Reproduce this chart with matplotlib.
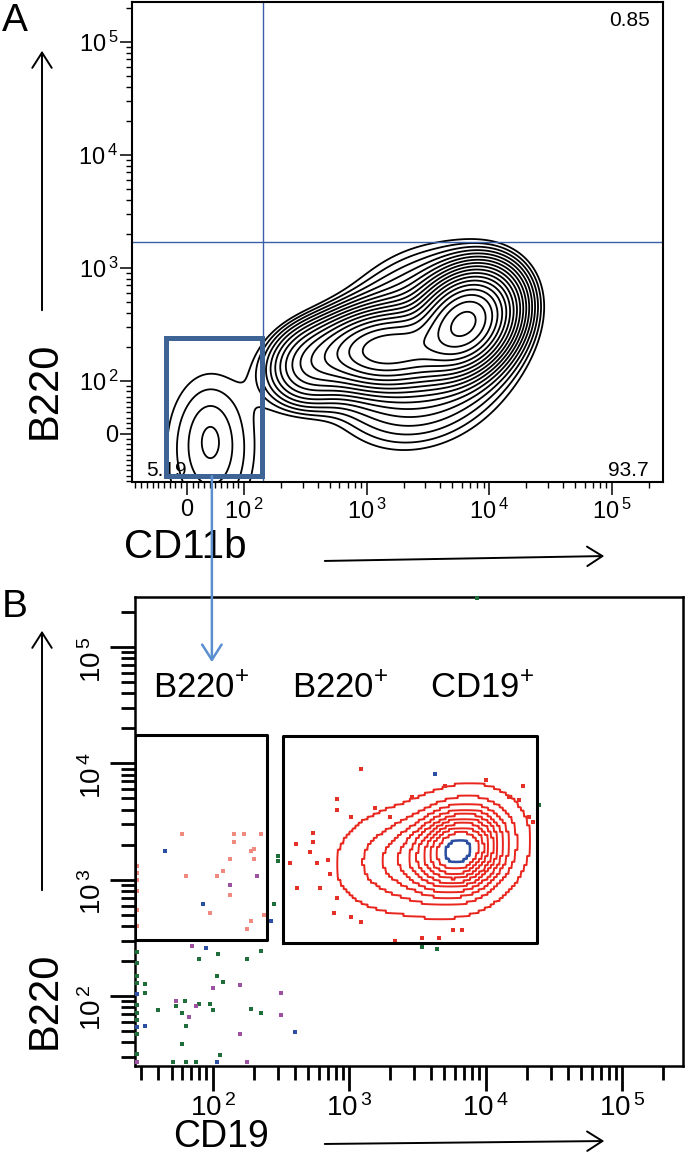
import numpy as np
import matplotlib
matplotlib.use('Agg')
import matplotlib.pyplot as plt
from matplotlib.ticker import FixedLocator, FuncFormatter, LogLocator, NullFormatter
from matplotlib.patches import FancyArrowPatch, ConnectionPatch

plt.rcParams['font.family'] = ['Liberation Sans', 'DejaVu Sans']
plt.rcParams['mathtext.fontset'] = 'custom'
plt.rcParams['mathtext.rm'] = 'Liberation Sans'

#---------------------------------------------------------------------------------------------------
# panel A : B220 vs CD11b (contour populations, centre in data units, spread in decades)
# main CD11b+ population (4 parts) + small B220+ CD11b- population (core + base)
a_pop_x = [6400, 1450, 343, 3000, 41, 41]
a_pop_y = [330, 190, 136, 200, -10, -30]
a_pop_sx = [0.2, 0.3, 0.2, 0.45, 0.1, 0.32]
a_pop_sy = [0.22, 0.18, 0.2, 0.48, 0.2, 0.6]
a_pop_rho = [0.25, 0.1, 0.1, 0.2, 0.0, 0.0]
a_pop_w = [1.0, 0.5, 0.1, 0.08, 0.006, 0.024]

a_quad_x = 143      # quadrant gate
a_quad_y = 1700
a_gate_x = [-37, 140]   # B220+ CD11b- gate
a_gate_y = [-81, 240]
a_pct = ['0.85', '93.7', '5.19']
a_xlim = (-96, 262144)
a_ylim = (-92, 226000)

# panel B : B220 vs CD19
b_pop_x = [6600, 2400]
b_pop_y = [1800, 1500]
b_pop_sx = [0.21, 0.27]
b_pop_sy = [0.235, 0.25]
b_pop_rho = [0.15, 0.1]
b_pop_w = [1.0, 0.25]

b_gate1_x = [27, 249]
b_gate1_y = [302, 17500]
b_gate2_x = [326, 23800]
b_gate2_y = [286, 17200]
b_xlim = (27, 280000)
b_ylim = (25, 270000)
b_gate_names = ['B220$^{+}$', 'B220$^{+}$', 'CD19$^{+}$']

# single events shown as dots
salmon_x = [60, 143, 171, 225, 143, 201, 135, 190, 201, 119, 107, 64, 135, 95, 239, 190, 179,
            28, 28, 28, 28, 28, 28]
salmon_y = [2450, 2450, 2450, 2450, 2120, 1830, 1500, 1770, 1500, 1200, 1080, 1080, 740, 520, 495, 444, 376,
            1320, 1140, 990, 805, 552, 398]
red_x = [1220, 822, 822, 1030, 1540, 2870, 545, 545, 411, 521, 371, 582, 701, 722, 416, 617, 817, 773,
         1030, 1220, 2160, 3400, 4550, 5740, 6690, 10100, 18700, 14900, 17700, 20900, 22200, 5030, 1990]
red_y = [8950, 4910, 3970, 3480, 4160, 5170, 2500, 2120, 2030, 1720, 1380, 1380, 1480, 1120, 843, 843, 691, 514,
         481, 436, 299, 313, 313, 369, 369, 7200, 6430, 5170, 4840, 3480, 3150, 6430, 3480]
green_x = [300, 300, 284, 24800, 3400, 4380, 8700, 79, 110, 179, 225, 107, 120, 32, 32, 40, 54, 63, 60,
           80, 95, 101, 190, 225, 64, 60, 113, 51, 64, 76, 28, 28, 28, 28, 28, 28, 28, 28, 28]
green_y = [1585, 1440, 615, 4390, 265, 252, 265000, 207, 231, 207, 243, 149, 132, 126, 106, 76, 82, 91, 72,
           85, 85, 76, 77, 72, 55, 39, 31, 27, 27, 27, 239, 192, 149, 129, 83, 72, 62, 47, 32]
purple_x = [135, 213, 71, 101, 160, 54, 76, 67, 160, 318, 318, 179, 28]
purple_y = [905, 1080, 271, 118, 124, 90, 82, 66, 47, 106, 68, 27, 27]
blue_x = [45, 85, 268, 4260, 90, 32, 400, 107, 28, 28]
blue_y = [1770, 615, 444, 8110, 257, 55, 49, 27, 104, 54]


def density(U, V, cx, cy, sx, sy, rho, w):
    Z = np.zeros_like(U)
    for i in range(len(cx)):
        dx = (U - cx[i]) / sx[i]
        dy = (V - cy[i]) / sy[i]
        q = (dx * dx - 2 * rho[i] * dx * dy + dy * dy) / (1 - rho[i] ** 2)
        Z += w[i] * np.exp(-0.5 * q)
    return Z / Z.max()


def pow_label(v, pos):
    if v == 0:
        return '0'
    return r'$\mathregular{10^{\,%d}}$' % round(np.log10(v))


W, H = 686, 1156
fig = plt.figure(figsize=(W / 100, H / 100), dpi=100)

#---------------------------------------------------------------------------------------------------
# panel A
axA = fig.add_axes([132 / W, 1 - 482 / H, 531 / W, 480 / H])
axA.set_xscale('symlog', linthresh=100, linscale=0.42)
axA.set_yscale('symlog', linthresh=100, linscale=0.42)
axA.set_xlim(a_xlim)
axA.set_ylim(a_ylim)

trx = axA.xaxis.get_transform()
try_ = axA.yaxis.get_transform()
ux0, ux1 = trx.transform(np.array(a_xlim))
uy0, uy1 = try_.transform(np.array(a_ylim))
ux = np.linspace(ux0, ux1, 500)
uy = np.linspace(uy0, uy1, 500)
UX, UY = np.meshgrid(ux / 100, uy / 100)
ZA = density(UX, UY,
             trx.transform(np.array(a_pop_x, float)) / 100, try_.transform(np.array(a_pop_y, float)) / 100,
             a_pop_sx, a_pop_sy, a_pop_rho, a_pop_w)
XA = trx.inverted().transform(ux)
YA = try_.inverted().transform(uy)
axA.contour(XA, YA, ZA, levels=np.geomspace(0.012, 0.9, 18), colors='black', linewidths=1.3)

axA.axvline(a_quad_x, color='#3c5ea8', lw=1.0)
axA.axhline(a_quad_y, color='#3c5ea8', lw=1.0)
gx = [a_gate_x[0], a_gate_x[1], a_gate_x[1], a_gate_x[0], a_gate_x[0]]
gy = [a_gate_y[0], a_gate_y[0], a_gate_y[1], a_gate_y[1], a_gate_y[0]]
axA.plot(gx, gy, color='#3d6494', lw=3.6, zorder=5, solid_joinstyle='miter')

axA.text(0.936, 0.9625, a_pct[0], transform=axA.transAxes, fontsize=15, ha='center', va='center')
axA.text(0.935, 0.025, a_pct[1], transform=axA.transAxes, fontsize=15, ha='center', va='center')
axA.text(0.064, 0.025, a_pct[2], transform=axA.transAxes, fontsize=15, ha='center', va='center')

majA = [0, 1e2, 1e3, 1e4, 1e5]
minA = [s * 10 for s in range(-9, 10) if s != 0] + \
       [s * m for m in [100, 1000, 10000] for s in range(2, 10)] + [2e5]
for axis in (axA.xaxis, axA.yaxis):
    axis.set_major_locator(FixedLocator(majA))
    axis.set_minor_locator(FixedLocator(minA))
    axis.set_major_formatter(FuncFormatter(pow_label))
    axis.set_minor_formatter(NullFormatter())
axA.tick_params(which='major', direction='out', length=9, width=1.1, labelsize=17)
axA.tick_params(which='minor', direction='out', length=4.5, width=1.0)
axA.tick_params(axis='x', pad=3)
axA.tick_params(axis='y', pad=1)
for sp in axA.spines.values():
    sp.set_linewidth(1.5)

axA.set_xlabel('CD11b', fontsize=29)
axA.xaxis.set_label_coords(0.1, -0.096)
axA.set_ylabel('B220', fontsize=30)
axA.yaxis.set_label_coords(-0.126, 0.19)

#---------------------------------------------------------------------------------------------------
# panel B
axB = fig.add_axes([135 / W, 1 - 1066 / H, 548 / W, 469 / H])
axB.set_xscale('log')
axB.set_yscale('log')
axB.set_xlim(b_xlim)
axB.set_ylim(b_ylim)

# coarse grid, blown up block-wise so the contours come out stepped like the export
sx_, sy_ = 0.022, 0.026
lx = np.arange(np.log10(b_xlim[0]), np.log10(b_xlim[1]), sx_)
ly = np.arange(np.log10(b_ylim[0]), np.log10(b_ylim[1]), sy_)
LX, LY = np.meshgrid(lx, ly)
ZB = density(LX, LY, np.log10(b_pop_x), np.log10(b_pop_y), b_pop_sx, b_pop_sy, b_pop_rho, b_pop_w)
k = 4
ZB = np.repeat(np.repeat(ZB, k, axis=0), k, axis=1)
off = (np.arange(k) + 0.5) / k - 0.5
fx = np.repeat(lx, k) + np.tile(off, len(lx)) * sx_
fy = np.repeat(ly, k) + np.tile(off, len(ly)) * sy_
axB.contour(10 ** fx, 10 ** fy, ZB, levels=[0.05, 0.14, 0.23, 0.32, 0.41, 0.5, 0.6, 0.7, 0.8],
            colors='#e8261e', linewidths=1.4)
axB.contour(10 ** fx, 10 ** fy, ZB, levels=[0.92], colors='#2c4ea0', linewidths=1.8)

dot = dict(marker='s', s=6, linewidths=0, clip_on=False, zorder=3)
axB.scatter(salmon_x, salmon_y, c='#f08a80', **dot)
axB.scatter(red_x, red_y, c='#e53027', **dot)
axB.scatter(green_x, green_y, c='#1f6e3a', **dot)
axB.scatter(purple_x, purple_y, c='#9c52a0', **dot)
axB.scatter(blue_x, blue_y, c='#2b4fa3', **dot)

for gxs, gys in ((b_gate1_x, b_gate1_y), (b_gate2_x, b_gate2_y)):
    axB.plot([gxs[0], gxs[1], gxs[1], gxs[0], gxs[0]], [gys[0], gys[0], gys[1], gys[1], gys[0]],
             color='black', lw=2.2, zorder=4)

for xf, name in zip([0.12, 0.374, 0.633], b_gate_names):
    axB.text(xf, 0.806, name, transform=axB.transAxes, fontsize=25, ha='center', va='center')

for axis in (axB.xaxis, axB.yaxis):
    axis.set_major_locator(FixedLocator([1e2, 1e3, 1e4, 1e5]))
    axis.set_minor_locator(LogLocator(base=10, subs=np.arange(2, 10), numticks=20))
    axis.set_major_formatter(FuncFormatter(pow_label))
    axis.set_minor_formatter(NullFormatter())
axB.tick_params(which='major', direction='out', length=18, width=2.0, labelsize=20, pad=2)
axB.tick_params(which='minor', direction='out', length=10, width=2.0)
axB.tick_params(axis='y', labelrotation=90)
for sp in axB.spines.values():
    sp.set_linewidth(1.8)

axB.set_xlabel('CD19', fontsize=27)
axB.xaxis.label.set_va('baseline')
axB.xaxis.set_label_coords(0.157, -0.1727)
axB.set_ylabel('B220', fontsize=30)
axB.yaxis.set_label_coords(-0.128, 0.14)

#---------------------------------------------------------------------------------------------------
# panel letters and axis arrows
fig.text(2 / W, 1 - 21 / H, 'A', fontsize=28, va='center', ha='left')
fig.text(2 / W, 1 - 607 / H, 'B', fontsize=28, va='center', ha='left')

arrow_style = '->,head_length=0.55,head_width=0.35'
for pa, pb in [((42, 313), (42, 48)), ((322, 561), (607, 556)),
               ((42, 893), (42, 628)), ((322, 1144), (607, 1141))]:
    fig.add_artist(FancyArrowPatch((pa[0] / W, 1 - pa[1] / H), (pb[0] / W, 1 - pb[1] / H),
                                   transform=fig.transFigure, arrowstyle=arrow_style,
                                   mutation_scale=20, lw=1.4, color='black'))

# arrow from the gate in A down to the B220+ gate in B
g0 = axA.transData.transform((a_gate_x[0], a_gate_y[0]))
g1 = axA.transData.transform((a_gate_x[1], a_gate_y[0]))
mid = (g0[0] + g1[0]) / 2 - 2
start = axA.transData.inverted().transform((mid, g0[1]))
end_x = axB.transAxes.inverted().transform((mid, 0))[0]
fig.add_artist(ConnectionPatch(xyA=start, coordsA=axA.transData, xyB=(end_x, 0.861), coordsB=axB.transAxes,
                               arrowstyle=arrow_style, mutation_scale=20, lw=1.8, color='#5b8fd0'))

plt.savefig('out.png', dpi=100)
